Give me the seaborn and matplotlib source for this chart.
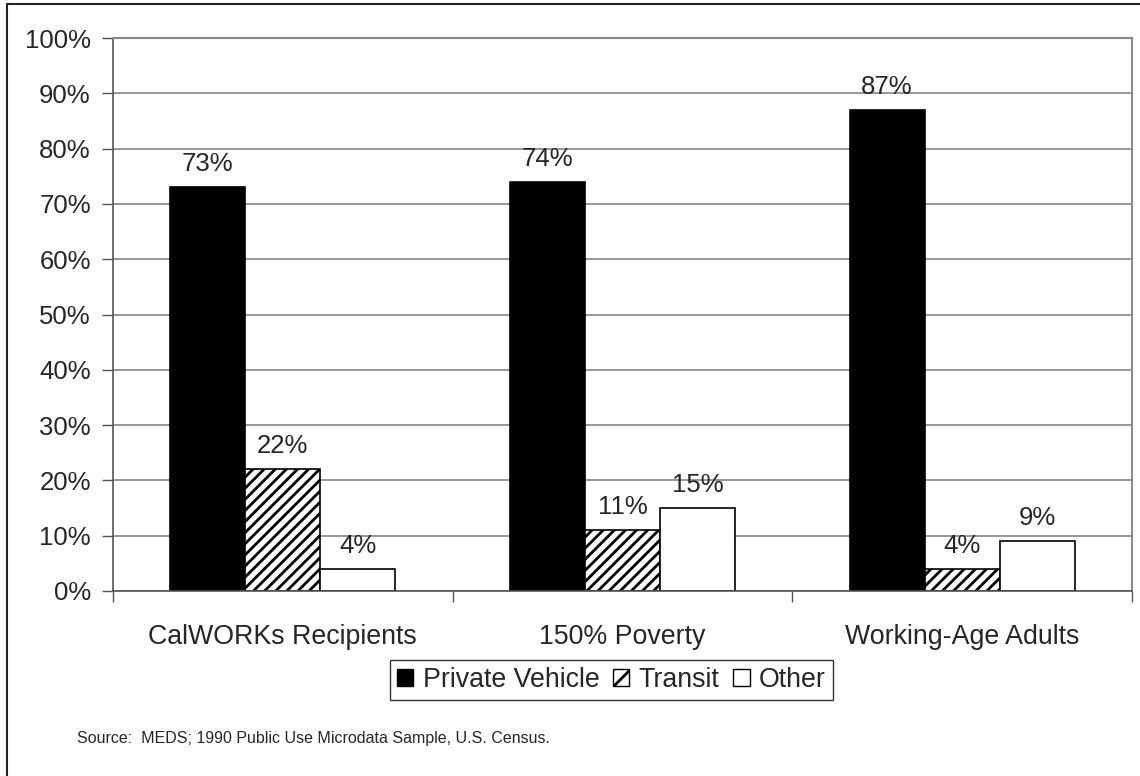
import matplotlib
matplotlib.use("Agg")
import matplotlib.pyplot as plt
from matplotlib.lines import Line2D
from matplotlib.patches import Patch
from matplotlib.ticker import FixedLocator, FuncFormatter
import pandas as pd
import seaborn as sns

# Commute mode shares (%) by population group
groups = ["CalWORKs Recipients", "150% Poverty", "Working-Age Adults"]
modes = ["Private Vehicle", "Transit", "Other"]
private_vehicle = [73, 74, 87]
transit = [22, 11, 4]
other = [4, 15, 9]
source_note = "Source:  MEDS; 1990 Public Use Microdata Sample, U.S. Census."

df = pd.DataFrame({
    "group": groups * 3,
    "mode": [m for m in modes for _ in groups],
    "share": private_vehicle + transit + other,
})

sns.set_style("white")
plt.rcParams["font.family"] = ["Liberation Sans", "DejaVu Sans"]
plt.rcParams["hatch.linewidth"] = 2.0
plt.rcParams["hatch.color"] = "black"

FS = 18.5
FS_CAT = 19.3
fig = plt.figure(figsize=(11.4, 7.76), dpi=100)
ax = fig.add_axes([113 / 1140, 1 - 591 / 776, (1132 - 113) / 1140, (591 - 38) / 776])

sns.barplot(data=df, x="group", y="share", hue="mode", order=groups, hue_order=modes,
            palette=["black", "white", "white"], edgecolor="black", linewidth=1.2,
            width=0.663, saturation=1, legend=False, ax=ax)

# diagonal hatching for transit bars
for bar in ax.containers[1]:
    bar.set_hatch("///")

for cont in ax.containers:
    ax.bar_label(cont, fmt="{:.0f}%", padding=8, fontsize=FS)

ax.set_ylim(0, 100)
ax.set_xlim(-0.5, 2.5)
ax.yaxis.set_major_locator(FixedLocator(range(0, 101, 10)))
ax.yaxis.set_major_formatter(FuncFormatter(lambda v, p: f"{v:.0f}%"))
ax.grid(axis="y", color="#7a7a7a", linewidth=1.1)
ax.set_axisbelow(True)
ax.set_xlabel("")
ax.set_ylabel("")

ax.tick_params(axis="y", which="major", length=8, width=1, color="#555555",
               pad=8, labelsize=FS, left=True)
ax.tick_params(axis="x", which="major", length=0, pad=24, labelsize=FS_CAT)
ax.xaxis.set_minor_locator(FixedLocator([-0.5, 0.5, 1.5, 2.5]))
ax.tick_params(axis="x", which="minor", length=8, width=1, color="#555555", bottom=True)

for side in ["left", "bottom"]:
    ax.spines[side].set_color("#555555")
    ax.spines[side].set_linewidth(1.2)
for side in ["top", "right"]:
    ax.spines[side].set_visible(True)
    ax.spines[side].set_color("#8a8a8a")
    ax.spines[side].set_linewidth(1.5)

handles = [
    Patch(facecolor="black", edgecolor="black", label=modes[0]),
    Patch(facecolor="white", edgecolor="black", hatch="//", label=modes[1]),
    Patch(facecolor="white", edgecolor="black", label=modes[2]),
]
leg = fig.legend(handles=handles, loc="center left", bbox_to_anchor=(390 / 1140, 1 - 680 / 776),
                 ncol=3, fontsize=FS_CAT, frameon=True, fancybox=False, shadow=False,
                 handlelength=0.62, handleheight=0.62, handletextpad=0.35,
                 columnspacing=0.5, borderpad=0.25, borderaxespad=0)
leg.get_frame().set_edgecolor("black")
leg.get_frame().set_linewidth(1)

fig.text(77 / 1140, 1 - 738 / 776, source_note, fontsize=11.5, va="center", ha="left")

# outer chart frame (top and left edges)
fig.add_artist(Line2D([7 / 1140, 7 / 1140], [0, 1 - 4 / 776], transform=fig.transFigure,
                      color="#222222", linewidth=1.5))
fig.add_artist(Line2D([7 / 1140, 1], [1 - 4 / 776, 1 - 4 / 776], transform=fig.transFigure,
                      color="#222222", linewidth=1.5))

fig.savefig("out.png", dpi=100)
